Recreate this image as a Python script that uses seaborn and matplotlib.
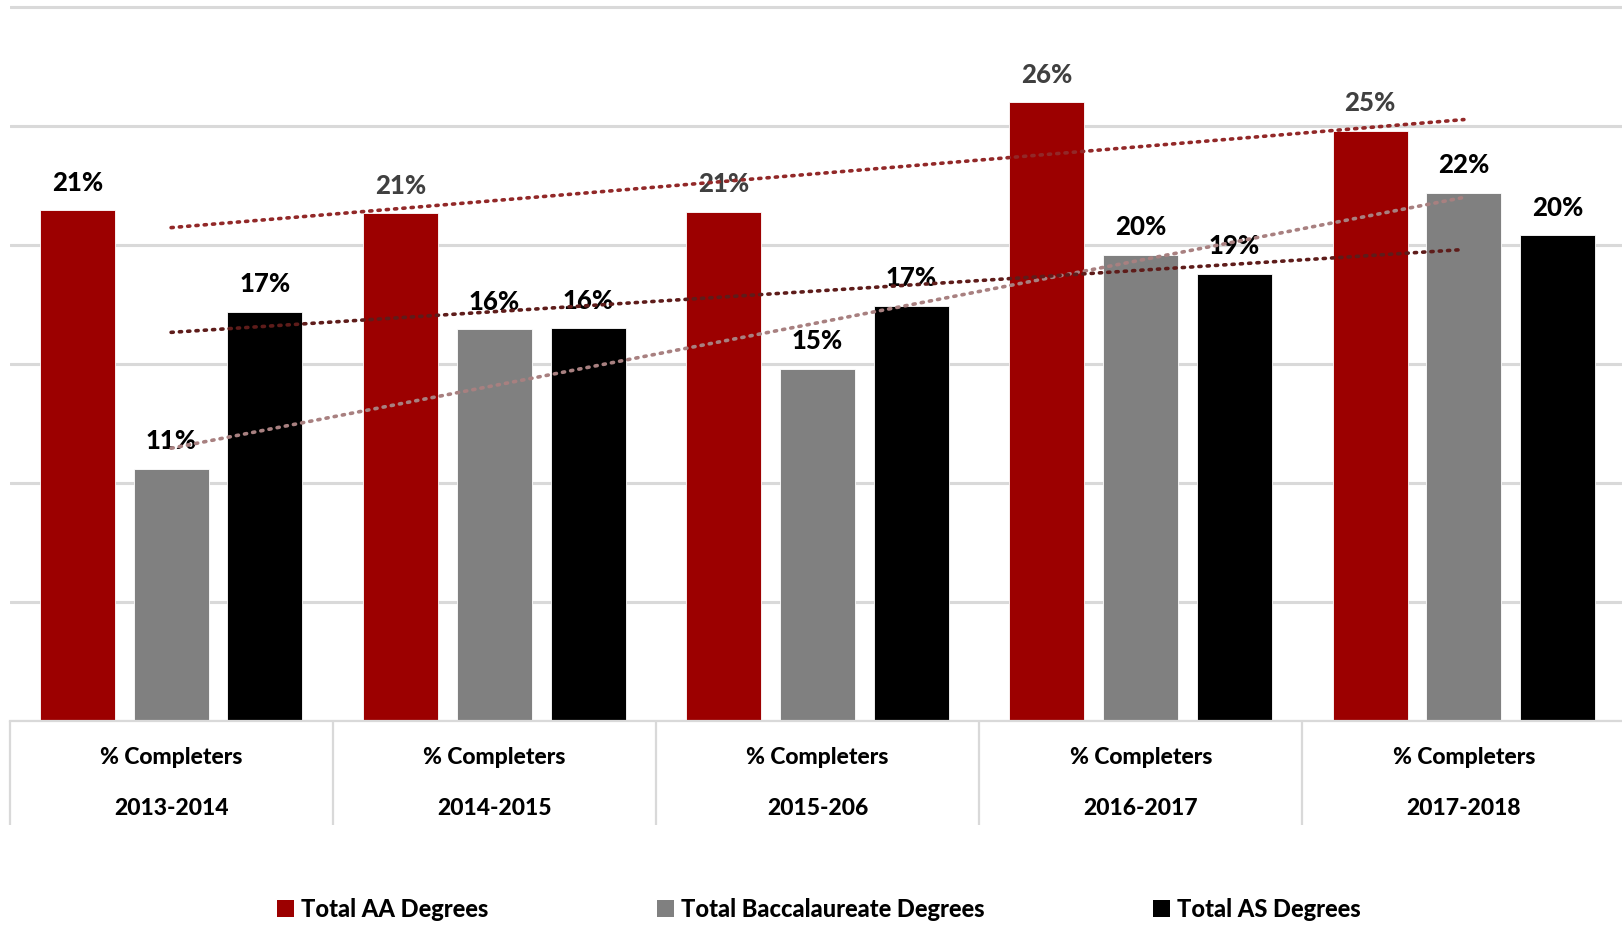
import numpy as np
import pandas as pd
import matplotlib
matplotlib.use("Agg")
import matplotlib.pyplot as plt
import matplotlib.transforms as mtransforms
from matplotlib.patches import Patch
import seaborn as sns

# ---- data ----
years = ["2013-2014", "2014-2015", "2015-206", "2016-2017", "2017-2018"]
series = ["Total AA Degrees", "Total Baccalaureate Degrees", "Total AS Degrees"]
aa_pct = [21.45, 21.35, 21.4, 26.0, 24.8]
bacc_pct = [10.6, 16.45, 14.8, 19.6, 22.2]
as_pct = [17.2, 16.5, 17.45, 18.8, 20.4]

bar_colors = ["#9c0000", "#808080", "#000000"]
trend_colors = ["#922828", "#a88080", "#5e1c1a"]
aa_label_colors = ["#000000", "#404040", "#404040", "#404040", "#404040"]

df = pd.DataFrame({
    "year": years * 3,
    "series": [s for s in series for _ in years],
    "pct": aa_pct + bacc_pct + as_pct,
})

sns.set_style("white")
plt.rcParams["font.family"] = ["Lato", "DejaVu Sans"]

fig = plt.figure(figsize=(16.22, 9.27), dpi=100)
ax = fig.add_axes([9.5 / 1622, 1 - 721 / 927, 1616 / 1622, 721 / 927])

sns.barplot(data=df, x="year", y="pct", hue="series", order=years,
            hue_order=series, palette=bar_colors, width=0.87, gap=0.2,
            edgecolor="white", linewidth=0.6, saturation=1, legend=False, ax=ax)

# data labels
for i, cont in enumerate(ax.containers):
    vals = [aa_pct, bacc_pct, as_pct][i]
    txts = ax.bar_label(cont, labels=[f"{round(v)}%" for v in vals], padding=11,
                        fontsize=18.5, fontweight="black", color="black")
    if i == 0:
        for t, c in zip(txts, aa_label_colors):
            t.set_color(c)

# linear trendlines
xs = np.arange(len(years))
for vals, c in zip([aa_pct, bacc_pct, as_pct], trend_colors):
    k, b = np.polyfit(xs, vals, 1)
    ax.plot([xs[0], xs[-1]], [k * xs[0] + b, k * xs[-1] + b], color=c,
            linestyle=(0, (0.6, 1.7)), linewidth=2.6, dash_capstyle="round", zorder=5)

ax.set_xlim(-0.5, 4.5)
ax.set_ylim(0, 30 * 721 / 714)
ax.set_yticks(np.arange(0, 31, 5))
ax.set_yticklabels([])
ax.yaxis.grid(True, color="#d9d9d9", linewidth=2.2)
ax.set_axisbelow(True)
for s in ["top", "right", "left"]:
    ax.spines[s].set_visible(False)
ax.spines["bottom"].set_color("#d9d9d9")
ax.spines["bottom"].set_linewidth(1.6)
ax.set_xlabel("")
ax.set_ylabel("")
ax.tick_params(axis="both", length=0)

ax.set_xticks(xs)
ax.set_xticklabels([f"% Completers\n{y}" for y in years], fontsize=16.5,
                   fontweight="black", linespacing=2.75, color="black")
ax.tick_params(axis="x", pad=19)

# category separators
trans = mtransforms.blended_transform_factory(ax.transData, ax.transAxes)
ax.vlines(np.arange(-0.5, 4.0, 1.0), -104 / 721, 0, transform=trans,
          color="#d9d9d9", linewidth=1.6, clip_on=False)

# legend
handles = [Patch(facecolor=c, edgecolor="none") for c in bar_colors]
fig.legend(handles, series, loc="center", bbox_to_anchor=(0.505, 0.019), ncol=3,
           frameon=False, handlelength=0.7, handleheight=0.7, handletextpad=0.3,
           columnspacing=7.15, prop={"size": 17, "weight": "black"},
           labelcolor="black")

fig.savefig("out.png", dpi=100)
